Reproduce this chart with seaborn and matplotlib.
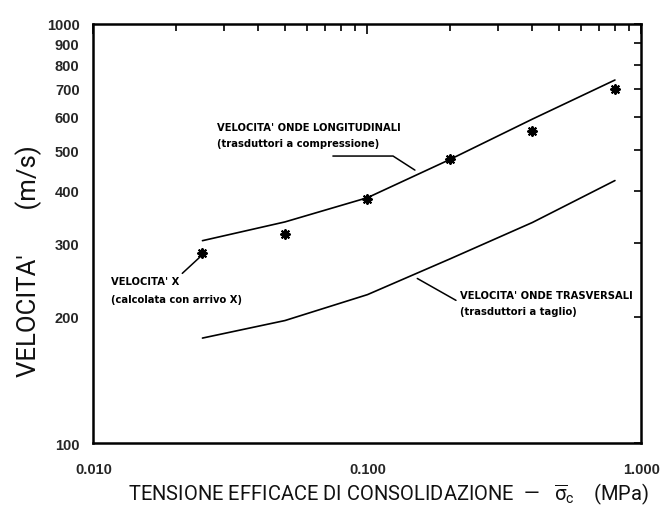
import matplotlib
matplotlib.use("Agg")
import matplotlib.pyplot as plt
import seaborn as sns
import pandas as pd
from matplotlib.ticker import FixedLocator, NullFormatter, FixedFormatter

sns.set_theme(style="white")
plt.rcParams["font.family"] = ["Roboto", "DejaVu Sans"]
plt.rcParams["mathtext.fontset"] = "custom"
plt.rcParams["mathtext.rm"] = "Roboto"
plt.rcParams["mathtext.it"] = "Roboto"

# Consolidation stress (MPa)
stress = [0.025, 0.05, 0.1, 0.2, 0.4, 0.8]
# Longitudinal (compression transducers) velocity, m/s
v_long = [304, 337, 385, 475, 593, 735]
# Transverse (shear transducers) velocity, m/s
v_trasv = [178, 196, 226, 275, 336, 423]
# Velocity computed from X arrival, m/s
v_x = [284, 315, 383, 475, 554, 699]

y_ticks = [100, 200, 300, 400, 500, 600, 700, 800, 900, 1000]
x_ticks = [0.01, 0.1, 1.0]
x_tick_labels = ["0.010", "0.100", "1.000"]

df = pd.DataFrame({"stress": stress, "long": v_long, "trasv": v_trasv, "x": v_x})

fig = plt.figure(figsize=(6.72, 5.10), dpi=100)
ax = fig.add_axes([0.139, 0.1294, 0.8156, 0.8216])

sns.lineplot(data=df, x="stress", y="long", ax=ax, color="black", lw=1.2)
sns.lineplot(data=df, x="stress", y="trasv", ax=ax, color="black", lw=1.2)
sns.scatterplot(data=df, x="stress", y="x", ax=ax, marker=(8, 2, 0), s=40,
                color="black", edgecolor="black", linewidth=1.5, zorder=5)

ax.set_xscale("log")
ax.set_yscale("log")
ax.set_xlim(0.01, 1.0)
ax.set_ylim(100, 1000)

# Ticks on all four sides, pointing inward
ax.xaxis.set_major_locator(FixedLocator(x_ticks))
ax.xaxis.set_major_formatter(FixedFormatter(x_tick_labels))
ax.xaxis.set_minor_locator(FixedLocator([k * 10.0 ** e for e in (-2, -1) for k in range(2, 10)]))
ax.xaxis.set_minor_formatter(NullFormatter())
ax.yaxis.set_major_locator(FixedLocator(y_ticks))
ax.yaxis.set_major_formatter(FixedFormatter([str(v) for v in y_ticks]))
ax.yaxis.set_minor_locator(FixedLocator([]))
ax.tick_params(axis="both", which="both", direction="in", top=True, right=True,
               color="black", width=1.2)
ax.tick_params(axis="x", which="major", length=7, pad=14, labelsize=10.5)
ax.tick_params(axis="x", which="minor", length=5)
ax.tick_params(axis="y", which="major", length=5, pad=10, labelsize=10.5)
for lab in ax.get_xticklabels() + ax.get_yticklabels():
    lab.set_fontweight("bold")
    lab.set_family(["Liberation Sans", "DejaVu Sans"])

for s in ax.spines.values():
    s.set_color("black")
    s.set_linewidth(1.8)

ax.set_xlabel("")
ax.set_ylabel("")
fig.text(0.578, 0.030,
         r"TENSIONE EFFICACE DI CONSOLIDAZIONE  —   $\overline{\sigma}_{c}$    (MPa)",
         fontsize=14.5, ha="center", va="center", color="#111111")
fig.text(0.043, 0.488, "VELOCITA'       (m/s)", fontsize=18.5, rotation=90,
         ha="center", va="center", color="#111111")

ann = dict(fontsize=7.2, fontweight="bold", color="black", va="center", ha="left",
           family=["DejaVu Sans"])

# Longitudinal waves label and leader
ax.text(0.0282, 567, "VELOCITA' ONDE LONGITUDINALI", **ann)
ax.text(0.0282, 519, "(trasduttori a compressione)", **ann)
ax.plot([0.0748, 0.124, 0.149], [484, 484, 448], color="black", lw=1.1)

# Transverse waves label and leader
ax.text(0.2176, 226, "VELOCITA' ONDE TRASVERSALI", **ann)
ax.text(0.2176, 206, "(trasduttori a taglio)", **ann)
ax.plot([0.152, 0.2104], [247, 219], color="black", lw=1.1)

# X-arrival velocity label and leader
ax.text(0.01158, 243, "VELOCITA' X", **ann)
ax.text(0.01158, 221, "(calcolata con arrivo X)", **ann)
ax.plot([0.0211, 0.0245], [254, 278], color="black", lw=1.1)

ax.set_facecolor("white")
fig.patch.set_facecolor("white")
fig.savefig("out.png", dpi=100)
